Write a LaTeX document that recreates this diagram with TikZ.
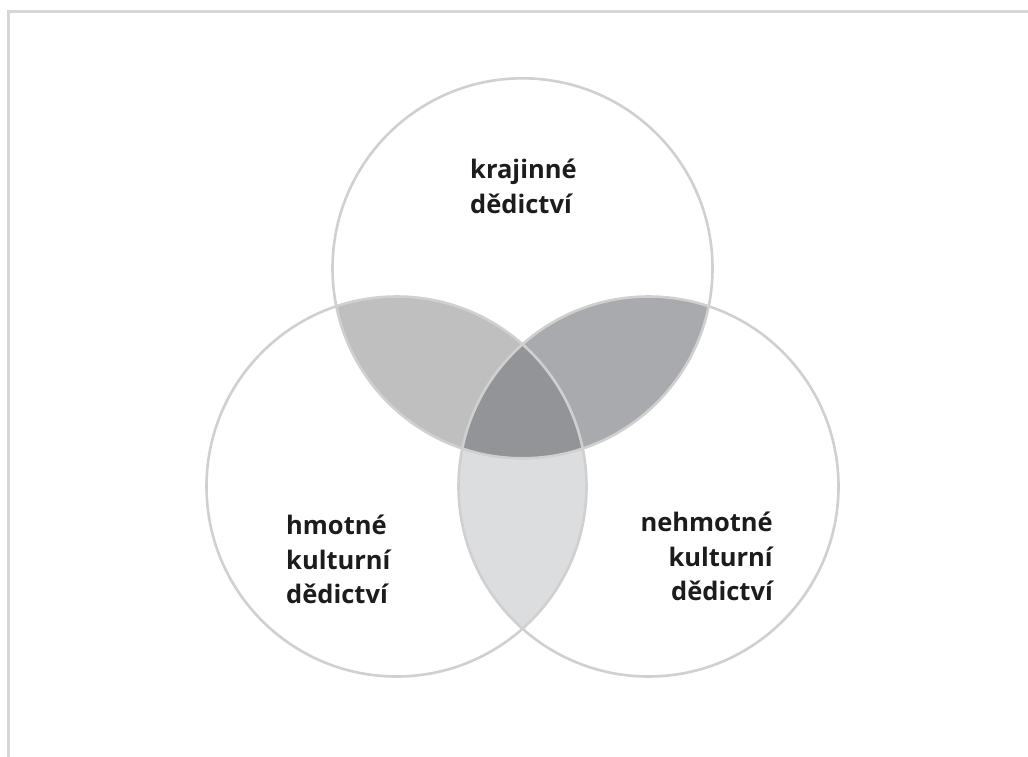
\documentclass[tikz,border=0pt]{standalone}
\usepackage{fontspec}
\setmainfont{Open Sans}
\definecolor{ringgray}{HTML}{D0D0D0}
\definecolor{framegray}{HTML}{D6D6D6}
\definecolor{tlfill}{HTML}{BEBFBE}
\definecolor{trfill}{HTML}{A9AAAD}
\definecolor{cfill}{HTML}{939497}
\definecolor{bfill}{HTML}{DCDDDF}
\definecolor{labeltext}{HTML}{1E1B1C}
\begin{document}
\begin{tikzpicture}[x=1pt,y=-1pt,
  ring/.style={draw=ringgray,line width=2.6pt},
  lab/.style={inner sep=0pt,font=\bfseries\fontsize{25.5}{34.5}\selectfont,text=labeltext}]
\useasboundingbox (0,0) rectangle (1028,756);
\fill[white] (0,0) rectangle (1028,756);
\draw[framegray,line width=3pt] (8.5,800) -- (8.5,11) -- (1100,11);
\def\ctT{(522.5,268.3) circle[radius=190]}
\def\ctL{(396.5,486.5) circle[radius=190]}
\def\ctR{(648.5,486.5) circle[radius=190]}
\begin{scope}\clip \ctT; \fill[tlfill] \ctL; \end{scope}
\begin{scope}\clip \ctT; \fill[trfill] \ctR; \end{scope}
\begin{scope}\clip \ctL; \fill[bfill] \ctR; \end{scope}
\begin{scope}\clip \ctT; \clip \ctL; \fill[cfill] \ctR; \end{scope}
\node[ring,circle,minimum size=380pt,inner sep=0pt] (top) at (522.5,268.3) {};
\node[ring,circle,minimum size=380pt,inner sep=0pt] (left) at (396.5,486.5) {};
\node[ring,circle,minimum size=380pt,inner sep=0pt] (right) at (648.5,486.5) {};
\node[lab,anchor=north west,align=left] (tlab) at (470,159) {krajinné\\dědictví};
\node[lab,anchor=north west,align=left] (llab) at (286,515) {hmotné\\kulturní\\dědictví};
\node[lab,anchor=north east,align=right] (rlab) at (773,512) {nehmotné\\kulturní\\dědictví};
\end{tikzpicture}
\end{document}
